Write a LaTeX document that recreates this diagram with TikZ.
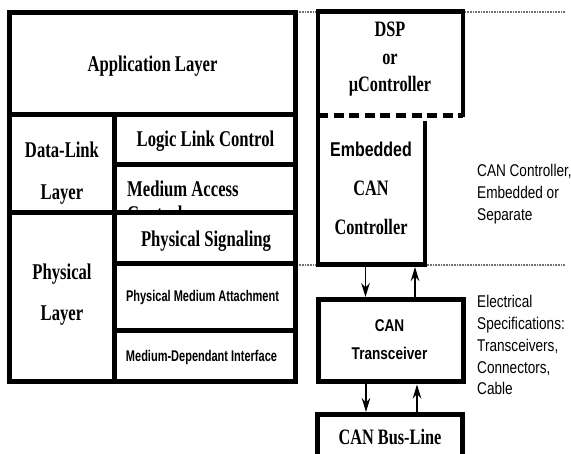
\documentclass[tikz,border=0pt]{standalone}
\usepackage{fontspec}
\setmainfont{Liberation Serif}
\newfontfamily\tnr{Liberation Serif}[FakeStretch=0.74]
\newfontfamily\sansN{Liberation Sans}[FakeStretch=0.8]
\newfontfamily\sansC{Liberation Sans}[FakeStretch=0.71]
\usetikzlibrary{arrows.meta}
% stacked lines of text whose baseline is that of the first line
\newcommand\mlines[2]{\begin{tabular}[t]{@{}#1@{}}#2\end{tabular}}

\begin{document}
\begin{tikzpicture}[x=1pt,y=-1pt,
  box/.style={draw, line width=5pt, fill=white, inner sep=0pt},
  shape only/.style={inner sep=0pt, outer sep=0pt},
  lt/.style={font=\tnr\bfseries\fontsize{22.5}{#1}\selectfont, inner sep=0pt, anchor=base},
  lt/.default=25,
  rt/.style={font=\tnr\bfseries\fontsize{22}{#1}\selectfont, inner sep=0pt, anchor=base},
  rt/.default=27.5,
  sm/.style={font=\sansC\bfseries\fontsize{15.5}{18}\selectfont, inner sep=0pt, anchor=base},
  sb/.style={font=\sansN\bfseries\fontsize{17}{28}\selectfont, inner sep=0pt, anchor=base},
  note/.style={font=\sansN\fontsize{17}{21.7}\selectfont, inner sep=0pt, anchor=base west},
  guide/.style={draw=black!55, line width=1.6pt, dash pattern=on 0.8pt off 0.8pt},
  arr/.style={line width=1.8pt, -{Stealth[length=14pt,width=8.5pt,inset=4.5pt]}},
]
\useasboundingbox (0,0) rectangle (571,454);

% dotted level lines
\coordinate (g1a) at (297,12);  \coordinate (g1b) at (565,12);
\coordinate (g2a) at (297,265); \coordinate (g2b) at (565,265);
\draw[guide] (g1a) -- (g1b);
\draw[guide] (g2a) -- (g2b);

% ---------------- layer stack ----------------
\node[box, minimum width=285.5pt, minimum height=102pt] (app) at (152.25,64) {};
\node[lt] (appT) at (152.5,72) {Application Layer};

\node[box, minimum width=105pt, minimum height=98pt] (dl) at (62,164) {};
\node[lt=42] (dlT) at (62,158) {\mlines{c}{Data-Link\\Layer}};

\node[box, minimum width=180.5pt, minimum height=49.5pt] (llc) at (204.75,139.75) {};
\node[lt] (llcT) at (205.5,147) {Logic Link Control};

\node[box, minimum width=180.5pt, minimum height=48.5pt] (mac) at (204.75,188.75) {};
\node[lt, anchor=base west] (macT) at (127,197) {\mlines{l}{Medium Access\\Control}};

\node[box, minimum width=105pt, minimum height=169pt] (phy) at (62,297.5) {};
\node[lt=41] (phyT) at (62,280) {\mlines{c}{Physical\\Layer}};

\node[box, minimum width=180.5pt, minimum height=50.5pt] (ps) at (204.75,238.25) {};
\node[lt] (psT) at (206,247) {Physical Signaling};

\node[box, minimum width=180.5pt, minimum height=67.5pt] (pma) at (204.75,297.25) {};
\node[sm] (pmaT) at (202.5,302) {Physical Medium Attachment};

\node[box, minimum width=180.5pt, minimum height=51pt] (mdi) at (204.75,356.5) {};
\node[sm] (mdiT) at (201.5,362) {Medium-Dependant Interface};

% ---------------- hardware blocks ----------------
\node[shape only, minimum width=145pt, minimum height=104pt] (dsp) at (390.5,63.5) {};
\node[shape only, minimum width=107pt, minimum height=149pt] (emb) at (371.5,190) {};
\draw[line width=4.5pt, fill=white]
  ([yshift=-5.5pt]emb.north east) -- (emb.south east) -- (emb.south west)
  -- (dsp.north west) -- (dsp.north east) -- ([yshift=-1.5pt]dsp.south east);
\draw[line width=4.5pt, dash pattern=on 10pt off 5.6pt] (dsp.south west) -- (dsp.south east);

\node[rt] (dspT) at (390,37) {\mlines{c}{DSP\\or\\µController}};
\node[rt=39] (embT) at (371,157)
  {\mlines{c}{{\sansN\fontsize{20}{39}\selectfont Embedded}\\CAN\\Controller}};

\node[box, minimum width=145pt, minimum height=82.5pt] (trx) at (390.5,340.75) {};
\node[sb] (trxT) at (389.5,332) {\mlines{c}{CAN\\Transceiver}};

\node[box, minimum width=145pt, minimum height=44pt] (bus) at (389.5,436.5) {};
\node[rt] (busT) at (390,445) {CAN Bus-Line};

% signal arrows
\draw[arr, shorten <=2.5pt] ([xshift=-25pt]trx.north |- emb.south) -- ([xshift=-25pt]trx.north);
\draw[arr] ([xshift=24.5pt]trx.north) -- ([xshift=24.5pt,yshift=-2.5pt]trx.north |- emb.south);
\draw[arr] ([xshift=-24.5pt]trx.south) -- ([xshift=-24.5pt]trx.south |- bus.north);
\draw[arr] ([xshift=26.5pt]trx.south |- bus.north) -- ([xshift=26.5pt]trx.south);

% side notes
\node[note] (n1) at (477,177) {\mlines{l}{CAN Controller,\\Embedded or\\Separate}};
\node[note] (n2) at (477,308) {\mlines{l}{Electrical\\Specifications:\\Transceivers,\\Connectors,\\Cable}};
\end{tikzpicture}
\end{document}
